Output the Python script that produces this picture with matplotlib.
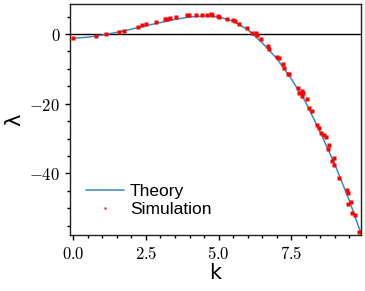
import matplotlib
matplotlib.use("Agg")
import matplotlib.pyplot as plt
from matplotlib.ticker import MultipleLocator, FuncFormatter

plt.rcParams['mathtext.fontset'] = 'cm'

# theory curve
k_theory = [0.0, 0.5, 1.0, 1.5, 2.0, 2.5, 3.0, 3.5, 4.0, 4.5, 5.0, 5.5, 6.0,
            6.5, 7.0, 7.5, 8.0, 8.5, 9.0, 9.5, 9.9]
lam_theory = [-1.2, -0.9, -0.3, 0.5, 1.4, 2.4, 3.3, 4.2, 4.9, 5.2, 4.9, 3.7, 1.3,
              -2.5, -7.0, -12.8, -19.6, -28.2, -37.4, -47.8, -57.2]

# simulation points
k_sim = [0.00, 0.78, 1.12, 1.57, 1.75, 2.21, 2.35, 2.49, 2.85, 3.15, 3.23, 3.33,
         3.52, 3.93, 3.99, 4.22, 4.44, 4.59, 4.73, 4.78, 4.97, 5.02, 5.28, 5.50,
         5.55, 5.71, 5.99, 6.16, 6.30, 6.33, 6.46, 6.69, 6.74, 7.02, 7.09, 7.22,
         7.25, 7.40, 7.43, 7.74, 7.78, 7.86, 7.87, 7.91, 8.03, 8.10, 8.20, 8.37,
         8.46, 8.51, 8.63, 8.68, 8.77, 8.79, 8.89, 8.96, 8.96, 9.15, 9.41, 9.46,
         9.46, 9.54, 9.60, 9.71, 9.84]
lam_sim = [-1.2, -0.6, -0.1, 0.7, 1.0, 2.1, 2.5, 2.8, 3.4, 4.2, 4.4, 4.5,
           4.9, 5.4, 5.5, 5.6, 5.5, 5.5, 5.7, 5.6, 5.2, 4.9, 4.4, 4.0,
           3.6, 2.9, 1.6, 0.3, 0.2, -0.4, -1.4, -3.5, -4.4, -6.5, -6.9, -8.6,
           -9.7, -11.4, -11.4, -15.5, -16.9, -16.2, -17.9, -16.8, -18.7, -21.1, -22.0, -26.2,
           -26.9, -28.4, -28.9, -29.6, -33.1, -31.8, -36.4, -35.6, -37.7, -41.3, -44.8, -45.5,
           -48.7, -48.1, -51.4, -51.9, -56.9]

fig = plt.figure(figsize=(3.65, 2.91), dpi=100)
ax = fig.add_axes([0.192, 0.192, 0.797, 0.794])

ax.axhline(0, color='black', lw=1.0)
ax.plot(k_theory, lam_theory, color='#3b8bc2', lw=1.1, label='Theory')
ax.plot(k_sim, lam_sim, 's', color='red', ms=2.2, mec='none', label='Simulation')

ax.set_xlim(-0.11, 9.9)
ax.set_ylim(-57.7, 8.6)

ax.xaxis.set_major_locator(MultipleLocator(2.5))
ax.xaxis.set_minor_locator(MultipleLocator(0.5))
ax.yaxis.set_major_locator(MultipleLocator(20))
ax.yaxis.set_minor_locator(MultipleLocator(5))
ax.xaxis.set_major_formatter(FuncFormatter(lambda v, p: f'${v:.1f}$'))
ax.yaxis.set_major_formatter(FuncFormatter(lambda v, p: f'${v:g}$'))
ax.tick_params(labelsize=12, width=1)
ax.tick_params(which='minor', width=1)
for s in ax.spines.values():
    s.set_linewidth(1.0)
    s.set_color('#222222')

ax.set_xlabel('k', fontsize=15, labelpad=0)
ax.set_ylabel('λ', fontsize=15, labelpad=4)

ax.legend(loc='lower left', frameon=False, handlelength=2.2,
          prop={'family': 'Liberation Sans', 'size': 12.5},
          handletextpad=0.35, borderaxespad=0.0, bbox_to_anchor=(0.03, 0.05),
          labelspacing=0.15, markerscale=0.7)

fig.savefig('out.png', dpi=100)
